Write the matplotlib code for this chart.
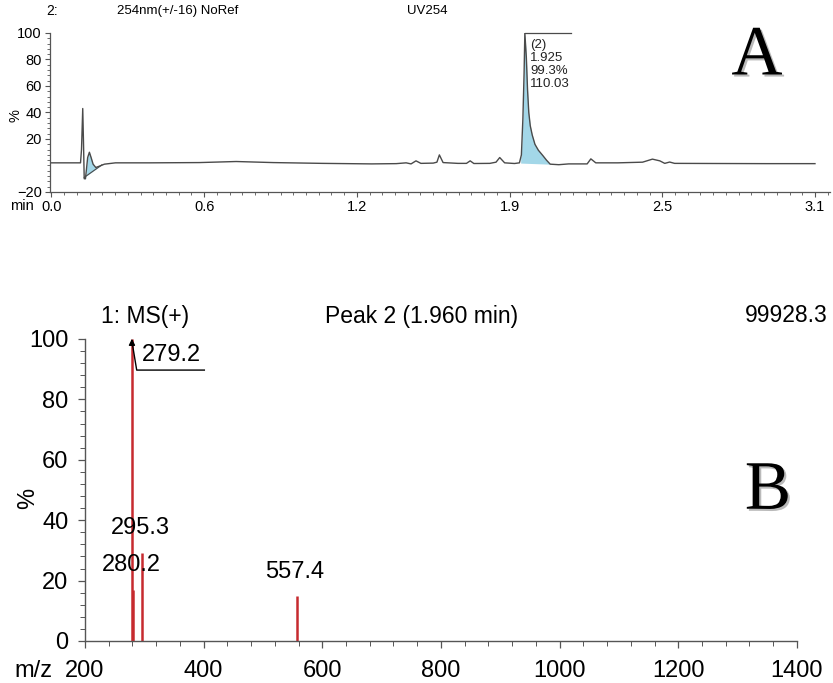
import numpy as np
import matplotlib.pyplot as plt
import matplotlib.patheffects as pe
from matplotlib.ticker import MultipleLocator, FuncFormatter

plt.rcParams['font.family'] = ['Liberation Sans', 'DejaVu Sans']

# --- panel A: UV254 chromatogram (time in min, intensity in %) ---
uv_time = [0.000, 0.060, 0.118, 0.122, 0.127, 0.130, 0.133, 0.138, 0.142, 0.147,
           0.154, 0.161, 0.169, 0.180, 0.195, 0.215, 0.260, 0.400, 0.600, 0.750,
           0.900, 1.100, 1.300, 1.400, 1.440, 1.460, 1.480, 1.500, 1.550, 1.565,
           1.575, 1.590, 1.650, 1.685, 1.700, 1.715, 1.780, 1.805, 1.820, 1.840,
           1.880, 1.900, 1.908, 1.914, 1.919, 1.922, 1.928, 1.933, 1.938, 1.944,
           1.952, 1.963, 1.977, 1.995, 2.010, 2.025, 2.060, 2.100, 2.150, 2.175,
           2.190, 2.210, 2.300, 2.400, 2.440, 2.470, 2.490, 2.510, 2.530, 2.700,
           2.900, 3.100]
uv_pct = [2.0, 2.0, 2.0, 12.0, 43.0, 18.0, -10.0, -10.0, -3.0, 6.0,
          10.0, 6.0, 1.0, -1.5, -0.5, 1.0, 2.0, 2.0, 2.2, 3.0,
          2.2, 1.6, 1.2, 1.4, 2.0, 1.2, 3.5, 1.6, 1.8, 2.5,
          8.0, 2.2, 1.6, 1.6, 3.5, 1.5, 1.6, 2.5, 6.0, 2.0,
          1.5, 2.0, 8.0, 35.0, 70.0, 100.0, 82.0, 57.0, 40.0, 30.0,
          23.0, 16.0, 11.5, 7.5, 4.0, 1.0, 0.6, 1.2, 1.2, 1.2,
          5.0, 2.0, 2.0, 2.5, 4.8, 3.5, 1.6, 2.6, 1.6, 1.5,
          1.4, 1.4]

# integration baselines of the two shaded peaks
solvent_base_t = [0.133, 0.205]
solvent_base_y = [-9.0, 0.5]
main_base_t = [1.905, 2.025]
main_base_y = [1.8, 1.0]

peak_rt = 1.922
peak_label = "(2)\n1.925\n99.3%\n110.03"

uv_ticks = [0.0, 0.62, 1.24, 1.86, 2.48, 3.10]

# --- panel B: mass spectrum of peak 2 ---
ms_mz = [279.2, 280.2, 295.3, 557.4]
ms_int = [100.0, 17.0, 29.0, 15.0]
ms_labels = ["279.2", "280.2", "295.3", "557.4"]

fig = plt.figure(figsize=(8.33, 6.83), dpi=100)

axis_col = '#555555'
trace_col = '#4a4a4a'
fill_col = '#a3d7e8'
stick_col = '#c62a2f'

# ---------------- A ----------------
axA = fig.add_axes([0.0600, 0.7189, 0.9364, 0.2328])
t = np.array(uv_time)
y = np.array(uv_pct)

tt = np.linspace(solvent_base_t[0], solvent_base_t[1], 60)
axA.fill_between(tt, np.interp(tt, t, y), np.interp(tt, solvent_base_t, solvent_base_y),
                 color=fill_col, lw=0)
tt = np.linspace(main_base_t[0], main_base_t[1], 200)
axA.fill_between(tt, np.interp(tt, t, y), np.interp(tt, main_base_t, main_base_y),
                 color=fill_col, lw=0)
axA.plot(solvent_base_t, solvent_base_y, color=trace_col, lw=0.8)
axA.plot(t, y, color=trace_col, lw=1.0)

# peak label bracket
axA.plot([peak_rt, peak_rt + 0.187], [100, 100], color=trace_col, lw=0.9, clip_on=False)
axA.text(peak_rt + 0.021, 95.5, peak_label, fontsize=9.5, va='top', ha='left',
         linespacing=1.1, color='#222222')

axA.set_xlim(-0.006, 3.161)
axA.set_ylim(-20, 100)
axA.set_xticks(uv_ticks)
axA.xaxis.set_major_formatter(FuncFormatter(lambda v, p: f"{v:.1f}"))
axA.xaxis.set_minor_locator(MultipleLocator(0.62 / 12))
axA.set_yticks([-20, 20, 40, 60, 80, 100])
axA.yaxis.set_minor_locator(MultipleLocator(4))
for s in ['top', 'right']:
    axA.spines[s].set_visible(False)
for s in ['left', 'bottom']:
    axA.spines[s].set_color(axis_col)
    axA.spines[s].set_linewidth(0.9)
axA.tick_params(which='major', length=3.5, width=0.8, color=axis_col, labelsize=10.5, pad=2.5)
axA.tick_params(which='minor', length=2, width=0.6, color=axis_col)

fig.text(16 / 833, 1 - 116 / 683, '%', rotation=90, fontsize=10.5, ha='center', va='center')
fig.text(22 / 833, 1 - 206 / 683, 'min', fontsize=10.5, ha='center', va='center')
fig.text(46 / 833, 1 - 11 / 683, '2:', fontsize=10, ha='left', va='center')
fig.text(117 / 833, 1 - 11 / 683, '254nm(+/-16) NoRef', fontsize=9.5, ha='left', va='center')
fig.text(407 / 833, 1 - 11 / 683, 'UV254', fontsize=9.5, ha='left', va='center')

shadow = [pe.withSimplePatchShadow(offset=(1.5, -1.5), shadow_rgbFace='#777777', alpha=0.5)]
fig.text(757 / 833, 1 - 57 / 683, 'A', family='Liberation Serif', fontsize=51,
         ha='center', va='center', path_effects=shadow)

# ---------------- B ----------------
axB = fig.add_axes([0.1020, 0.0615, 0.8547, 0.4422])
axB.vlines(ms_mz, 0, ms_int, color=stick_col, lw=1.8)

# base peak marker and underlined label
top_mz, top_int = ms_mz[0], ms_int[0]
axB.annotate('', xy=(top_mz, top_int + 1), xytext=(top_mz, top_int - 3),
             arrowprops=dict(arrowstyle='-|>', color='black', lw=1.0, mutation_scale=9),
             annotation_clip=False)
axB.plot([top_mz + 1, top_mz + 8, top_mz + 122], [top_int - 2, top_int - 10.3, top_int - 10.3],
         color='black', lw=1.0)
axB.text(top_mz + 16, top_int - 5.3, ms_labels[0], fontsize=17, ha='left', va='center')

label_pos = {"280.2": (277.5, 25.2), "295.3": (292.7, 37.4), "557.4": (553.9, 22.8)}
for lab in ms_labels[1:]:
    lx, ly = label_pos[lab]
    axB.text(lx, ly, lab, fontsize=17, ha='center', va='center')

axB.set_xlim(200, 1400)
axB.set_ylim(0, 100)
axB.xaxis.set_major_locator(MultipleLocator(200))
axB.xaxis.set_minor_locator(MultipleLocator(40))
axB.yaxis.set_major_locator(MultipleLocator(20))
axB.yaxis.set_minor_locator(MultipleLocator(4))
for s in ['top', 'right']:
    axB.spines[s].set_visible(False)
for s in ['left', 'bottom']:
    axB.spines[s].set_color(axis_col)
    axB.spines[s].set_linewidth(1.0)
axB.tick_params(which='major', length=5, width=0.9, color=axis_col, labelsize=17)
axB.tick_params(axis='x', which='major', pad=9)
axB.tick_params(axis='y', which='major', pad=7)
axB.tick_params(which='minor', length=3.5, width=0.7, color=axis_col)

fig.text(28 / 833, 1 - 498 / 683, '%', rotation=90, fontsize=17, ha='center', va='center')
fig.text(33 / 833, 1 - 671 / 683, 'm/z', fontsize=17, ha='center', va='center')
fig.text(145 / 833, 1 - 316 / 683, '1: MS(+)', fontsize=16.5, ha='center', va='center')
fig.text(422 / 833, 1 - 316 / 683, 'Peak 2 (1.960 min)', fontsize=16.5, ha='center', va='center')
fig.text(828 / 833, 1 - 316 / 683, '99928.3', fontsize=16.5, ha='right', va='center')
fig.text(768 / 833, 1 - 492 / 683, 'B', family='Liberation Serif', fontsize=50,
         ha='center', va='center', path_effects=shadow)

fig.savefig('out.png', dpi=100)
